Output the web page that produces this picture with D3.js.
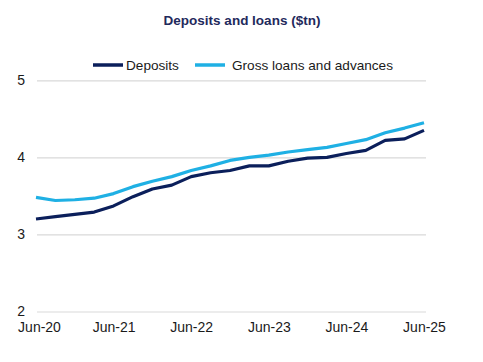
<!DOCTYPE html>
<html>
<head>
<meta charset="utf-8">
<script src="https://cdn.jsdelivr.net/npm/d3@7"></script>
<style>
  body { margin: 0; background: #fff; }
  svg { display: block; font-family: "Liberation Sans", Arial, sans-serif; }
</style>
</head>
<body>
<svg id="chart" width="483" height="362"></svg>
<script>
const quarters = ["Jun-20", "Sep-20", "Dec-20", "Mar-21", "Jun-21", "Sep-21", "Dec-21", "Mar-22",
    "Jun-22", "Sep-22", "Dec-22", "Mar-23", "Jun-23", "Sep-23", "Dec-23", "Mar-24",
    "Jun-24", "Sep-24", "Dec-24", "Mar-25", "Jun-25"];
const deposits = [3.20, 3.23, 3.26, 3.29, 3.37, 3.49, 3.59, 3.64, 3.75, 3.80, 3.83, 3.89, 3.89,
    3.95, 3.99, 4.00, 4.05, 4.09, 4.22, 4.24, 4.35];
const loans = [3.48, 3.44, 3.45, 3.47, 3.53, 3.62, 3.69, 3.75, 3.83, 3.89, 3.96, 4.00, 4.03,
    4.07, 4.10, 4.13, 4.18, 4.23, 4.32, 4.38, 4.45];
const yTicks = [2, 3, 4, 5];
const seriesNames = ["Deposits", "Gross loans and advances"];

const svg = d3.select("#chart");
const navy = "#0b1f5b";
const sky = "#1fb0e4";

const x = d3.scalePoint().domain(quarters).range([36, 424]);
const y = d3.scaleLinear().domain([2, 5]).range([311.5, 80.3]);

// title
svg.append("text")
    .attr("x", 242).attr("y", 25)
    .attr("text-anchor", "middle")
    .style("font-size", "13.5px")
    .style("font-weight", "bold")
    .style("fill", "#1f2a5c")
    .text("Deposits and loans ($tn)");

// gridlines + y labels
const yAxis = svg.append("g")
    .attr("transform", "translate(37,0)")
    .call(d3.axisLeft(y).tickValues(yTicks).tickSize(-389).tickFormat(d3.format("d")));
yAxis.select(".domain").remove();
yAxis.selectAll(".tick line").attr("stroke", "#d9d9d9").attr("stroke-width", 1.2);
yAxis.selectAll(".tick text")
    .attr("x", -12)
    .style("font-size", "14px")
    .style("fill", "#1a1a1a")
    .style("font-family", "Liberation Sans, Arial, sans-serif");

// x labels
const xAxis = svg.append("g")
    .attr("transform", "translate(0,317)")
    .call(d3.axisBottom(x).tickValues(quarters.filter(q => q.startsWith("Jun"))).tickSize(0));
xAxis.select(".domain").remove();
xAxis.selectAll(".tick text")
    .attr("dy", "0.72em")
    .attr("y", 5)
    .style("font-size", "14px")
    .style("fill", "#1a1a1a")
    .style("font-family", "Liberation Sans, Arial, sans-serif");
xAxis.select(".tick text").attr("dx", 3);

const line = d3.line()
    .x((d, i) => x(quarters[i]))
    .y(d => y(d));

svg.append("path")
    .datum(loans)
    .attr("fill", "none")
    .attr("stroke", sky)
    .attr("stroke-width", 3.2)
    .attr("stroke-linejoin", "round")
    .attr("d", line);

svg.append("path")
    .datum(deposits)
    .attr("fill", "none")
    .attr("stroke", navy)
    .attr("stroke-width", 3.2)
    .attr("stroke-linejoin", "round")
    .attr("d", line);

// legend
const legend = [
    {name: seriesNames[0], color: navy, x: 93},
    {name: seriesNames[1], color: sky, x: 195}
];
const lg = svg.append("g").selectAll("g")
    .data(legend)
    .enter().append("g")
    .attr("transform", d => `translate(${d.x},65)`);
lg.append("line")
    .attr("x1", 0).attr("x2", 30)
    .attr("stroke", d => d.color)
    .attr("stroke-width", 3.5);
lg.append("text")
    .attr("x", (d, i) => i === 0 ? 33 : 37)
    .attr("dy", "0.35em")
    .style("font-size", "13.6px")
    .style("fill", "#1a1a1a")
    .text(d => d.name);
</script>
</body>
</html>
